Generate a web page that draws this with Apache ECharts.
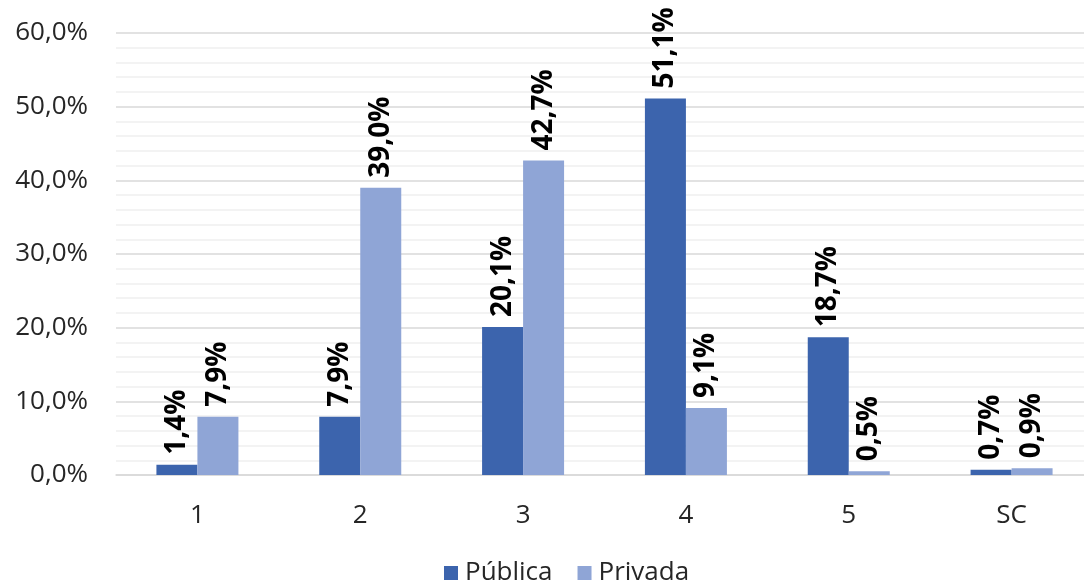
<!DOCTYPE html>
<html>
<head>
<meta charset="utf-8">
<script src="https://cdn.jsdelivr.net/npm/echarts@6/dist/echarts.min.js"></script>
<style>
  html, body { margin: 0; padding: 0; background: #fff; overflow: hidden; width: 1084px; height: 583px; }
  /* the drawing surface is a little wider than the page so the plot runs off the right edge */
  #chart { width: 1100px; height: 583px; }
</style>
</head>
<body>
<div id="chart"></div>
<script>
// Share of students per level, public vs private schools
const categories = ['1', '2', '3', '4', '5', 'SC'];
const publica = [1.4, 7.9, 20.1, 51.1, 18.7, 0.7];
const privada = [7.9, 39.0, 42.7, 9.1, 0.5, 0.9];
const yTicks = { min: 0, max: 60, interval: 10 };

const FONT = '"Open Sans", "Noto Sans", sans-serif';
const fmt = v => v.toFixed(1).replace('.', ',') + '%';

const labelStyle = {
  show: true,
  position: 'top',
  rotate: 90,
  align: 'left',
  verticalAlign: 'middle',
  distance: 10,
  color: '#000',
  fontFamily: FONT,
  fontWeight: 'bold',
  fontSize: 28,
  formatter: p => fmt(p.value)
};

const chart = echarts.init(document.getElementById('chart'));
chart.setOption({
  animation: false,
  textStyle: { fontFamily: FONT },
  grid: { left: 116, right: 7, top: 33, bottom: 108, containLabel: false },
  legend: {
    top: 555,
    left: 439,
    itemWidth: 14,
    itemHeight: 14,
    itemGap: 25,
    icon: 'rect',
    textStyle: { fontSize: 26, color: '#262626', fontFamily: FONT, padding: [0, 0, 0, 2] },
    data: ['Pública', 'Privada']
  },
  xAxis: {
    type: 'category',
    data: categories,
    axisLine: { lineStyle: { color: '#d9d9d9', width: 1.5 } },
    axisTick: { show: false },
    axisLabel: { fontSize: 26, color: '#262626', margin: 28, fontFamily: FONT }
  },
  yAxis: {
    type: 'value',
    min: yTicks.min,
    max: yTicks.max,
    interval: yTicks.interval,
    axisLine: { show: false },
    axisTick: { show: false },
    axisLabel: { fontSize: 26, color: '#262626', margin: 28, fontFamily: FONT, formatter: v => fmt(v) },
    splitLine: { lineStyle: { color: '#d9d9d9', width: 1.5 } },
    minorTick: { show: false, splitNumber: 5 },
    minorSplitLine: { show: true, lineStyle: { color: '#f0f0f0', width: 1.5 } }
  },
  series: [
    {
      name: 'Pública',
      type: 'bar',
      data: publica,
      barWidth: 41,
      barGap: '0%',
      itemStyle: { color: '#3C64AD' },
      label: labelStyle
    },
    {
      name: 'Privada',
      type: 'bar',
      data: privada,
      barWidth: 41,
      barGap: '0%',
      itemStyle: { color: '#8FA5D6' },
      label: labelStyle
    }
  ]
});
</script>
</body>
</html>
